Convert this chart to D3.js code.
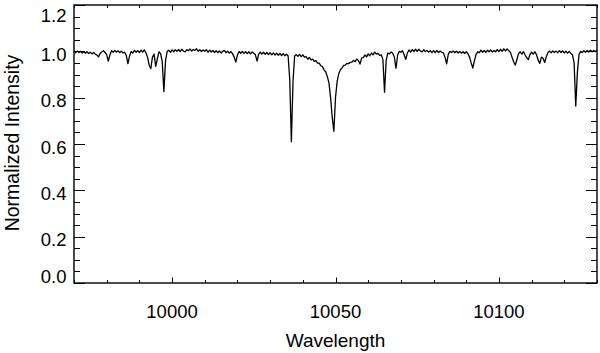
<!DOCTYPE html>
<html>
<head>
<meta charset="utf-8">
<script src="https://cdnjs.cloudflare.com/ajax/libs/d3/7.8.5/d3.min.js"></script>
<style>
	body { margin: 0; background: #fff; }
	svg { display: block; }
	text { font-family: "Liberation Sans", Arial, Helvetica, sans-serif; fill: #000; }
</style>
</head>
<body>
<svg id="chart" width="600" height="353"></svg>
<script>
// spectrum sampled every 0.5 A starting at 9970 A
var lambdaStart = 9970;
var lambdaStep = 0.5;
var intensity = [
	1.002, .994, 1.001, .995, 1.000, .993, .999, .992, .998, .991, .996, .989, .995, .988, .984, .976, .992, .997, 1.003, .995,
	.986, .958, .985, 1.003, .996, 1.004, .997, 1.002, .995, 1.001, .993, .996, .982, .947, .980, .999, .993, 1.004, .996, 1.003,
	.995, 1.005, .997, 1.006, .994, .975, .940, .925, .975, .988, .935, .968, .998, .990, .955, .826, .960, .999, 1.005, .996,
	1.006, .998, 1.007, 1.000, 1.008, .999, 1.009, 1.001, .998, 1.007, 1.003, 1.010, 1.001, 1.008, 1.004, 1.011, 1.000, 1.007, .999, 1.006,
	1.000, 1.007, .996, 1.005, .997, 1.004, .995, 1.003, .994, 1.002, .993, 1.000, 1.004, .994, 1.001, .992, .999, .990, .975, .954,
	.984, .999, .992, 1.000, .991, .999, .990, .998, .989, .997, .992, .985, .958, .988, .997, .988, .996, .987, .995, .986,
	.994, .985, .993, .984, .992, .983, .991, .982, .990, .981, .988, .980, .880, .610, .870, .980, .986, .978, .987, .977,
	.985, .975, .977, .966, .974, .963, .966, .957, .960, .949, .949, .938, .934, .919, .912, .891, .864, .800, .715, .655,
	.800, .870, .903, .921, .928, .939, .941, .948, .947, .952, .953, .961, .955, .967, .960, .945, .972, .973, .984, .976,
	.989, .981, .993, .985, .997, .988, .991, .983, .985, .965, .823, .960, .993, .989, .997, .992, .975, .927, .983, 1.000,
	.996, 1.003, .985, .965, .993, 1.006, .997, 1.008, .999, 1.009, 1.000, 1.009, 1.001, .998, 1.007, .999, 1.004, .997, 1.003, .994,
	1.003, .994, 1.004, .995, 1.001, .996, .993, .975, .946, .987, 1.000, .995, 1.002, .994, 1.001, .993, 1.000, .992, .998, .991,
	.998, .991, .975, .950, .928, .960, .987, .998, .994, 1.005, .996, 1.004, .995, 1.005, .998, 1.006, .997, 1.004, .998, 1.008,
	.999, 1.009, 1.000, 1.011, 1.002, 1.010, 1.003, .996, .975, .955, .941, .965, .990, .998, .988, .999, .985, .972, .965, .987,
	.997, .988, .998, .985, .962, .948, .975, .970, .952, .977, .995, 1.001, .994, 1.002, .995, 1.001, .994, 1.003, .995, 1.002,
	.993, 1.001, .992, 1.000, .991, .985, .950, .764, .910, .987, 1.000, .995, 1.003, .996, 1.004, .997, 1.005, .998, 1.004, .999,
	1.003
];

var xDomain = [9970, 10130];
var yDomain = [0, 1.2];
var xMajorTicks = [10000, 10050, 10100];
var xTickLabels = ["10000", "10050", "10100"];
var yMajorTicks = [0, 0.2, 0.4, 0.6, 0.8, 1.0, 1.2];
var yTickLabels = ["0.0", "0.2", "0.4", "0.6", "0.8", "1.0", "1.2"];
var xMinorStep = 10;
var yMinorStep = 0.05;

var plotLeft = 74, plotRight = 597, plotTop = 5, plotBottom = 283;

var svg = d3.select("#chart");
var x = d3.scaleLinear().domain(xDomain).range([plotLeft, plotRight]);
var y = d3.scaleLinear().domain(yDomain).range([plotBottom, plotTop]);

var spectrum = intensity.map(function(v, i) {
	return { w: lambdaStart + i * lambdaStep, v: v };
});

svg.append("path")
	.datum(spectrum)
	.attr("fill", "none")
	.attr("stroke", "#000")
	.attr("stroke-width", 1.3)
	.attr("stroke-linejoin", "round")
	.attr("d", d3.line().x(function(d) { return x(d.w); }).y(function(d) { return y(d.v); }));

// ticks on all four sides, pointing inward
var xMinor = d3.range(xDomain[0], xDomain[1] + 0.001, xMinorStep);
var yMinor = d3.range(0, 25).map(function(i) { return i * yMinorStep; });

var ticks = svg.append("g").attr("stroke", "#000").attr("stroke-width", 1);

xMinor.forEach(function(v) {
	var major = xMajorTicks.some(function(m) { return Math.abs(m - v) < 1e-6; });
	var len = major ? 5.5 : 3;
	var px = Math.round(x(v)) + 0.5;
	ticks.append("line").attr("x1", px).attr("x2", px).attr("y1", plotBottom).attr("y2", plotBottom - len);
	ticks.append("line").attr("x1", px).attr("x2", px).attr("y1", plotTop).attr("y2", plotTop + len);
});

yMinor.forEach(function(v) {
	var major = yMajorTicks.some(function(m) { return Math.abs(m - v) < 1e-6; });
	var len = major ? 11 : 6;
	var py = Math.round(y(v)) + 0.5;
	ticks.append("line").attr("y1", py).attr("y2", py).attr("x1", plotLeft).attr("x2", plotLeft + len);
	ticks.append("line").attr("y1", py).attr("y2", py).attr("x1", plotRight).attr("x2", plotRight - len);
});

// frame
svg.append("rect")
	.attr("x", plotLeft).attr("y", plotTop)
	.attr("width", plotRight - plotLeft).attr("height", plotBottom - plotTop)
	.attr("fill", "none")
	.attr("stroke", "#000")
	.attr("stroke-width", 1.4);

// tick labels
svg.selectAll(".xlabel")
	.data(xMajorTicks)
	.enter().append("text")
	.attr("class", "xlabel")
	.attr("x", function(d) { return x(d); })
	.attr("y", 318)
	.attr("text-anchor", "middle")
	.attr("font-size", "18.5px")
	.text(function(d, i) { return xTickLabels[i]; });

svg.selectAll(".ylabel")
	.data(yMajorTicks)
	.enter().append("text")
	.attr("class", "ylabel")
	.attr("x", 66.5)
	.attr("y", function(d) {
		// end labels are kept inside the frame, like the original plot
		var c = Math.min(Math.max(y(d) + 3, 15.5), 276.5);
		return c + 6.6;
	})
	.attr("text-anchor", "end")
	.attr("font-size", "18.5px")
	.text(function(d, i) { return yTickLabels[i]; });

// axis titles
svg.append("text")
	.attr("x", (plotLeft + plotRight) / 2)
	.attr("y", 346.5)
	.attr("text-anchor", "middle")
	.attr("font-size", "19px")
	.text("Wavelength");

svg.append("text")
	.attr("transform", "translate(19," + ((plotTop + plotBottom) / 2 - 1) + ") rotate(-90)")
	.attr("text-anchor", "middle")
	.attr("font-size", "19.5px")
	.text("Normalized Intensity");
</script>
</body>
</html>
